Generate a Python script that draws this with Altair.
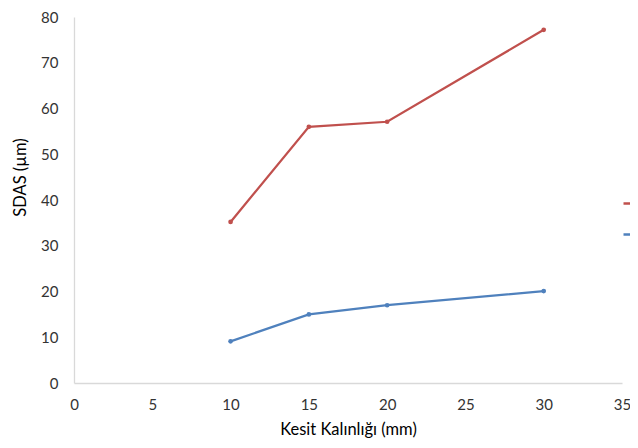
import altair as alt
import pandas as pd

kalinlik = [10, 15, 20, 30]
seri1 = [35.2, 56.0, 57.1, 77.2]
seri2 = [9.1, 15.0, 17.0, 20.1]
series_names = ["Seri 1", "Seri 2"]
colors = ["#C0504D", "#4F81BD"]

rows = []
for name, vals in zip(series_names, [seri1, seri2]):
    for x, y in zip(kalinlik, vals):
        rows.append({"x": x, "y": y, "seri": name})
df = pd.DataFrame(rows)

font = "Lato"

xenc = alt.X("x:Q", scale=alt.Scale(domain=[0, 35], nice=False),
             axis=alt.Axis(values=[0, 5, 10, 15, 20, 25, 30, 35], title="Kesit Kalınlığı (mm)",
                           grid=False, ticks=False, labelPadding=14, titlePadding=9,
                           labelFlush=False, labelBound=False,
                           domainColor="#D9D9D9", domainWidth=1.3))
yenc = alt.Y("y:Q", scale=alt.Scale(domain=[0, 80], nice=False),
             axis=alt.Axis(values=[0, 10, 20, 30, 40, 50, 60, 70, 80], title="SDAS (µm)",
                           grid=False, ticks=False, labelPadding=16, titlePadding=12,
                           titleY=160,
                           labelFlush=False, labelBound=False,
                           domainColor="#D9D9D9", domainWidth=1.3))
color = alt.Color("seri:N", scale=alt.Scale(domain=series_names, range=colors),
                  legend=alt.Legend(orient="none", legendX=548, legendY=181, title=None,
                                    labelExpr="''", symbolType="stroke", symbolSize=64,
                                    symbolStrokeWidth=2.5, rowPadding=20))

base = alt.Chart(df)
lines = base.mark_line(strokeWidth=2.25).encode(x=xenc, y=yenc, color=color)
pts = base.mark_circle(size=22, opacity=1).encode(x=xenc, y=yenc, color=alt.Color("seri:N", legend=None, scale=alt.Scale(domain=series_names, range=colors)))

chart = (lines + pts).properties(
    width=548, height=366,
    autosize=alt.AutoSizeParams(type="none"),
    padding={"left": 66, "top": 9, "right": 8, "bottom": 57},
).configure_view(stroke=None).configure_axis(
    labelFont=font, titleFont=font, labelFontSize=15, titleFontSize=16.5,
    labelColor="#333333", titleColor="#000000", titleFontWeight="normal"
)

chart.save("out.html", embed_options={"renderer": "svg", "actions": False})
